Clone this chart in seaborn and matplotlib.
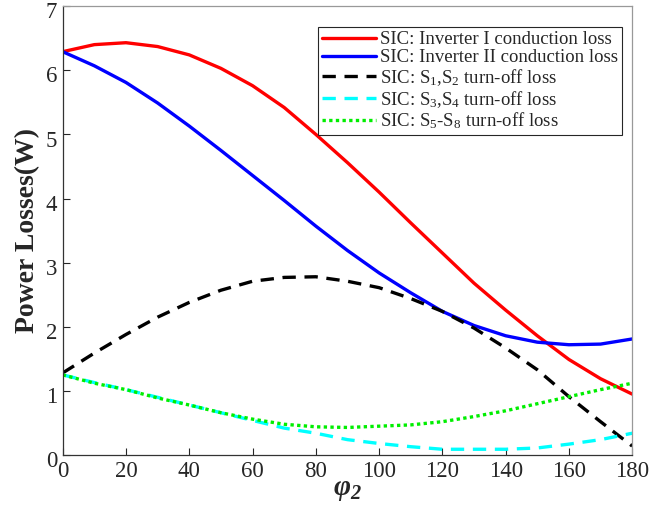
import numpy as np
import pandas as pd
import matplotlib
matplotlib.use("Agg")
import matplotlib.pyplot as plt
import matplotlib.transforms as mtransforms
import seaborn as sns

phi2 = [0, 10, 20, 30, 40, 50, 60, 70, 80, 90, 100, 110, 120, 130, 140, 150, 160, 170, 180]
inv1_cond = [6.29, 6.40, 6.43, 6.37, 6.24, 6.03, 5.76, 5.42, 5.00, 4.56, 4.10, 3.62, 3.15, 2.68, 2.26, 1.86, 1.49, 1.19, 0.95]
inv2_cond = [6.29, 6.07, 5.81, 5.49, 5.13, 4.75, 4.36, 3.97, 3.57, 3.19, 2.84, 2.53, 2.24, 2.02, 1.86, 1.76, 1.72, 1.73, 1.81]
s12_off = [1.28, 1.59, 1.88, 2.15, 2.38, 2.57, 2.71, 2.77, 2.78, 2.71, 2.61, 2.44, 2.24, 1.98, 1.67, 1.33, 0.91, 0.52, 0.14]
s34_off = [1.25, 1.13, 1.02, 0.90, 0.78, 0.66, 0.54, 0.42, 0.34, 0.24, 0.18, 0.13, 0.09, 0.09, 0.09, 0.11, 0.17, 0.24, 0.34]
s58_off = [1.25, 1.12, 1.02, 0.89, 0.78, 0.66, 0.56, 0.48, 0.44, 0.43, 0.45, 0.47, 0.52, 0.60, 0.69, 0.80, 0.91, 1.02, 1.12]

labels = [
    "SIC: Inverter I conduction loss",
    "SIC: Inverter II conduction loss",
    "SIC: S$_1$,S$_2$ turn-off loss",
    "SIC: S$_3$,S$_4$ turn-off loss",
    "SIC: S$_5$-S$_8$ turn-off loss",
]
xticks = [0, 20, 40, 60, 80, 100, 120, 140, 160, 180]
yticks = [0, 1, 2, 3, 4, 5, 6, 7]

sns.set_theme(style="white")
plt.rcParams["font.family"] = ["Liberation Serif", "DejaVu Serif"]
plt.rcParams["mathtext.fontset"] = "custom"
plt.rcParams["mathtext.rm"] = "Liberation Serif"
plt.rcParams["mathtext.it"] = "Liberation Serif:italic:bold"
plt.rcParams["mathtext.sf"] = "Liberation Serif:italic:bold"
plt.rcParams["mathtext.bf"] = "Liberation Serif:bold"

fig = plt.figure(figsize=(6.7, 5.13), dpi=100)
ax = fig.add_axes([0.0936, 0.113, 0.850, 0.875])

series = [inv1_cond, inv2_cond, s12_off, s34_off, s58_off]
colors = ["#ff0000", "#0000ff", "#000000", "#00ffff", "#00ee00"]
styles = ["-", "-", (0, (4, 2.6)), (0, (4, 2.6)), (0, (1, 1))]
for y, lab, c, ls in zip(series, labels, colors, styles):
    df = pd.DataFrame({"phi2": phi2, "loss": y})
    sns.lineplot(data=df, x="phi2", y="loss", ax=ax, color=c, linewidth=2.4,
                 linestyle=ls, label=lab)

ax.set_xlim(0, 180)
ax.set_ylim(0, 7)
ax.set_xticks(xticks)
ax.set_yticks(yticks)
ax.tick_params(direction="in", length=5, width=0.8, colors="#262626",
               labelsize=16.5, top=False, right=False, bottom=True, left=True, pad=4)
for side, s in ax.spines.items():
    s.set_linewidth(0.9)
    s.set_color("#333333" if side in ("left", "bottom") else "#999999")

shift = mtransforms.ScaledTranslation(0, -3 / 72, fig.dpi_scale_trans)
for lbl in ax.get_yticklabels():
    lbl.set_transform(lbl.get_transform() + shift)

ax.set_xlabel(r"$\mathit{\varphi}_{\mathsf{2}}$", fontsize=21, labelpad=-3)
ax.set_ylabel("Power Losses(W)", fontsize=20, fontweight="bold", labelpad=4)

leg = ax.legend(loc="upper right", bbox_to_anchor=(0.982, 0.953), fontsize=13.5,
                frameon=True, fancybox=False, edgecolor="#262626", framealpha=1,
                handlelength=2.9, handletextpad=0.2, borderpad=0.2,
                labelspacing=0.05, borderaxespad=0)
leg.get_frame().set_linewidth(0.8)

fig.savefig("out.png", dpi=100)
